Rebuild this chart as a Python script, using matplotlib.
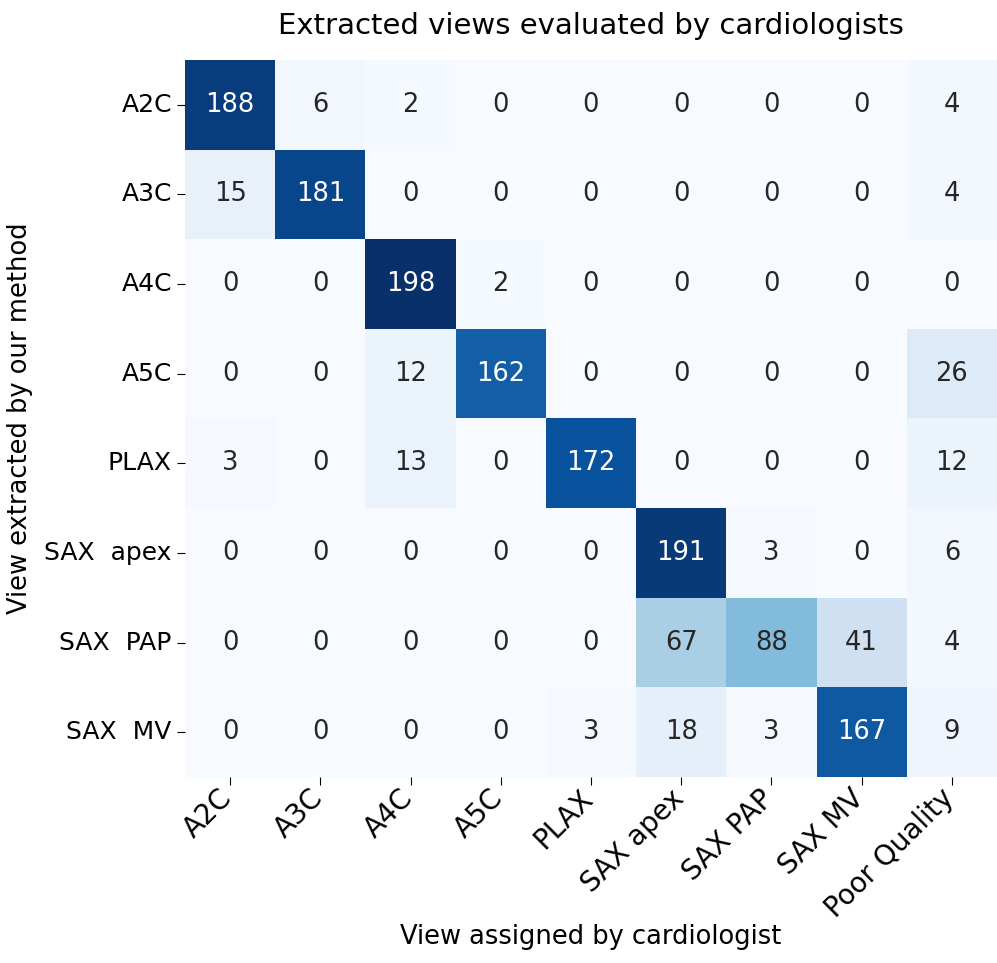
import numpy as np
import matplotlib
matplotlib.use("Agg")
import matplotlib.pyplot as plt
import matplotlib.transforms as mtrans
import seaborn as sns

row_labels = ["A2C", "A3C", "A4C", "A5C", "PLAX", "SAX  apex", "SAX  PAP", "SAX  MV"]
col_labels = ["A2C", "A3C", "A4C", "A5C", "PLAX", "SAX apex", "SAX PAP", "SAX MV", "Poor Quality"]

row_a2c = [188, 6, 2, 0, 0, 0, 0, 0, 4]
row_a3c = [15, 181, 0, 0, 0, 0, 0, 0, 4]
row_a4c = [0, 0, 198, 2, 0, 0, 0, 0, 0]
row_a5c = [0, 0, 12, 162, 0, 0, 0, 0, 26]
row_plax = [3, 0, 13, 0, 172, 0, 0, 0, 12]
row_sax_apex = [0, 0, 0, 0, 0, 191, 3, 0, 6]
row_sax_pap = [0, 0, 0, 0, 0, 67, 88, 41, 4]
row_sax_mv = [0, 0, 0, 0, 3, 18, 3, 167, 9]

matrix = np.array([row_a2c, row_a3c, row_a4c, row_a5c, row_plax,
                   row_sax_apex, row_sax_pap, row_sax_mv])

fig = plt.figure(figsize=(9.97, 9.63), dpi=100)
ax = fig.add_axes([185/997, (963-777)/963, (997-185)/997, (777-60)/963])
sns.heatmap(matrix, annot=True, fmt="d", cmap="Blues", cbar=False, ax=ax,
            xticklabels=col_labels, yticklabels=row_labels,
            annot_kws={"fontsize": 18.5})
ax.set_title("Extracted views evaluated by cardiologists", fontsize=21, pad=19)
ax.set_ylabel("View extracted by our method", fontsize=18.5, labelpad=8)
ax.tick_params(axis="y", labelsize=18, length=6)
ax.tick_params(axis="x", labelsize=20, length=6)
plt.setp(ax.get_yticklabels(), rotation=0)
offset = mtrans.ScaledTranslation(8/100, 6/100, fig.dpi_scale_trans)
for lab in ax.get_xticklabels():
    lab.set_rotation(45)
    lab.set_ha("right")
    lab.set_transform(lab.get_transform() + offset)
ax.set_xlabel("")
fig.text((185 + 997) / 2 / 997, 1 - 937 / 963, "View assigned by cardiologist",
         fontsize=18.5, ha="center", va="center")
fig.savefig("out.png", dpi=100)
